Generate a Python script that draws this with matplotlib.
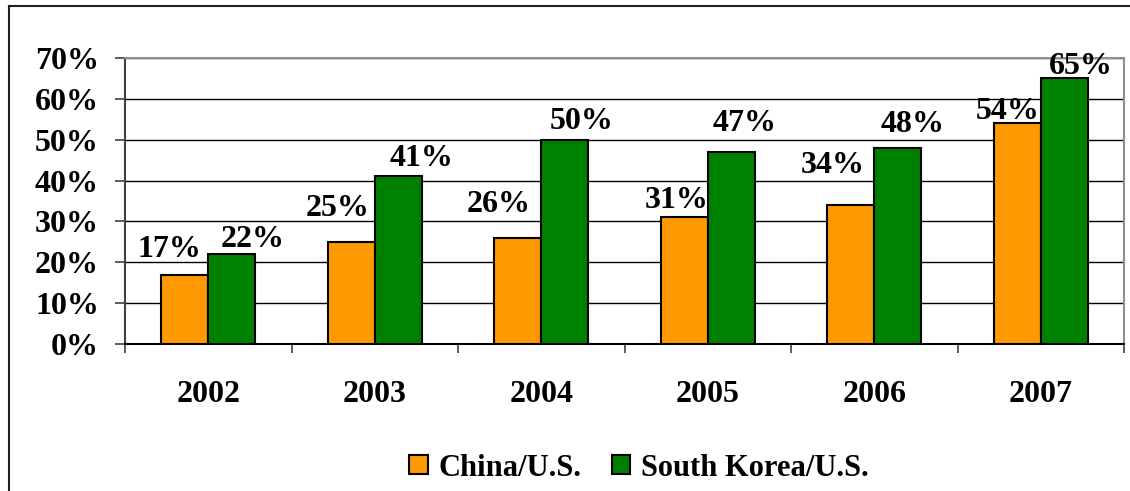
import matplotlib
matplotlib.use("Agg")
import matplotlib.pyplot as plt
from matplotlib.lines import Line2D
from matplotlib.ticker import FuncFormatter, FixedLocator

years = ["2002", "2003", "2004", "2005", "2006", "2007"]
china_us = [17, 25, 26, 31, 34, 54]
korea_us = [22, 41, 50, 47, 48, 65]
series_names = ["China/U.S.", "South Korea/U.S."]
yticks = [0, 10, 20, 30, 40, 50, 60, 70]

# label placement tweaks (pixels): horizontal shift and gap above bar
china_lbl_dx = [-15, -14, -19, -8, -18, -10]
china_lbl_gap = [18, 26, 26, 9, 32, 4]
korea_lbl_dx = [21, 23, 17, 13, 15, 17]
korea_lbl_gap = [7, 10, 11, 21, 16, 4]

ORANGE = "#FF9900"
GREEN = "#008000"
FONT = "Liberation Serif"
FS = 23
LEG_FS = 22
px = 0.72  # points per pixel at dpi 100

plt.rcParams["font.family"] = [FONT, "DejaVu Serif"]
plt.rcParams["font.weight"] = "bold"

fig = plt.figure(figsize=(11.3, 4.91), dpi=100)
ax = fig.add_axes([125 / 1130, 1 - 344 / 491, (1124 - 125) / 1130, (344 - 58) / 491])

n = len(years)
w = 0.283
centers = [i + 0.5 for i in range(n)]
b1 = ax.bar([c - w / 2 for c in centers], china_us, width=w, color=ORANGE,
            edgecolor="black", linewidth=1.5, zorder=3, label=series_names[0])
b2 = ax.bar([c + w / 2 for c in centers], korea_us, width=w, color=GREEN,
            edgecolor="black", linewidth=1.5, zorder=3, label=series_names[1])

for bars, vals, dxs, gaps in ((b1, china_us, china_lbl_dx, china_lbl_gap),
                              (b2, korea_us, korea_lbl_dx, korea_lbl_gap)):
    for rect, v, dx, g in zip(bars, vals, dxs, gaps):
        ax.annotate(f"{v}%", (rect.get_x() + rect.get_width() / 2, v),
                    xytext=(dx * px, g * px), textcoords="offset points",
                    ha="center", va="baseline", fontsize=FS, fontweight="bold",
                    zorder=5, annotation_clip=False)

ax.set_xlim(0, n)
ax.set_ylim(0, 70)
ax.yaxis.set_major_locator(FixedLocator(yticks))
ax.yaxis.set_major_formatter(FuncFormatter(lambda v, p: f"{v:.0f}%"))
ax.grid(axis="y", color="black", linewidth=1.0, zorder=0)
ax.set_axisbelow(True)

ax.set_xticks(range(n + 1))
ax.set_xticklabels([])
ax.set_xticks(centers, minor=True)
ax.set_xticklabels(years, minor=True)
ax.tick_params(axis="x", which="major", length=9 * px, width=1.2, color="#404040", direction="out")
ax.tick_params(axis="x", which="minor", length=0, pad=36 * px, labelsize=FS)
ax.tick_params(axis="y", length=10 * px, width=1.2, color="#404040", pad=16 * px, labelsize=FS)
for lbl in ax.get_xticklabels(minor=True) + ax.get_yticklabels():
    lbl.set_fontweight("bold")

ax.spines["top"].set_color("#909090")
ax.spines["right"].set_color("#909090")
ax.spines["left"].set_color("#404040")
ax.spines["bottom"].set_color("black")
for s in ax.spines.values():
    s.set_linewidth(1.5)

leg = fig.legend(handles=[b1, b2], labels=series_names, loc="center",
                 bbox_to_anchor=(639 / 1130, 1 - 468 / 491), ncol=2, frameon=False,
                 fontsize=LEG_FS, handlelength=0.6, handleheight=0.6, handletextpad=0.35,
                 columnspacing=1.0, borderpad=0.0)
for t in leg.get_texts():
    t.set_fontweight("bold")

# outer chart frame (left and top edges visible)
fig.add_artist(Line2D([9 / 1130, 9 / 1130], [0, 1 - 6 / 491], transform=fig.transFigure,
                      color="#202020", linewidth=1.5))
fig.add_artist(Line2D([9 / 1130, 1], [1 - 6 / 491, 1 - 6 / 491], transform=fig.transFigure,
                      color="#202020", linewidth=1.5))

fig.savefig("out.png", dpi=100)
